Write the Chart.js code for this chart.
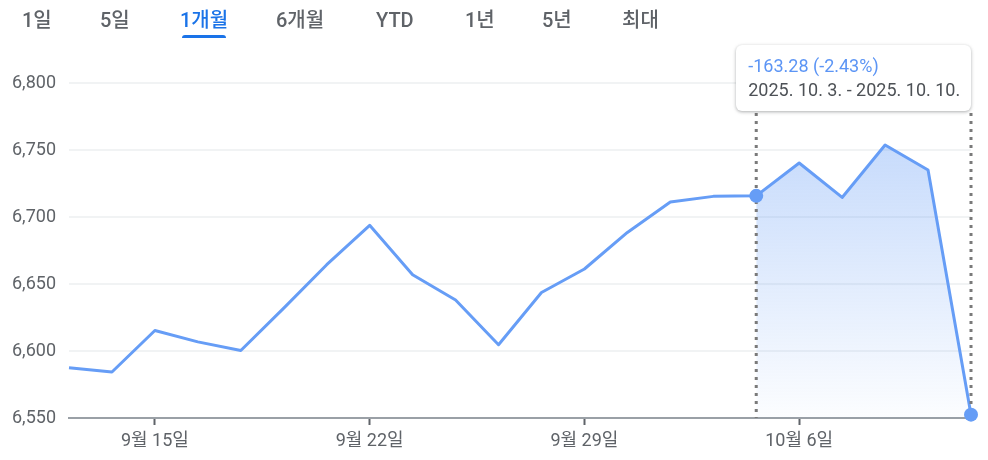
<!DOCTYPE html>
<html><head><meta charset="utf-8">
<script src="https://cdn.jsdelivr.net/npm/chart.js@4/dist/chart.umd.min.js"></script>
<style>
html,body{margin:0;padding:0;background:#fff;width:988px;height:460px;overflow:hidden;font-family:Roboto,"Noto Sans CJK KR",sans-serif;}
#wrap{position:absolute;left:0;top:0;width:988px;height:460px;}
.tab{position:absolute;top:7px;font-size:20px;font-weight:500;color:#5f6368;line-height:26px;font-family:Roboto,"Noto Sans CJK KR",sans-serif;}
.tab.active{color:#1a73e8;}
#uline{position:absolute;left:182px;top:35px;width:44px;height:3px;background:#1a73e8;border-radius:3px 3px 0 0;}
#tip{position:absolute;box-sizing:border-box;background:#fff;border-radius:6px;box-shadow:0 1px 3px rgba(60,64,67,0.3),0 1px 4px rgba(60,64,67,0.15);padding:9px 12px;font-size:18px;line-height:24px;white-space:nowrap;font-family:Roboto,sans-serif;}
#tip .a{color:#5c95f5;}
#tip .b{color:#4d5156;}
canvas{position:absolute;left:0;top:0;}
</style></head>
<body><div id="wrap">
<canvas id="c" width="988" height="460"></canvas>
<div id="tabs"></div>
<div id="uline"></div>
<div id="tip"><div class="a" id="tipA"></div><div class="b" id="tipB"></div></div>
</div>
<script>
const tabs = ['1일','5일','1개월','6개월','YTD','1년','5년','최대'];
const tabX = [22,100,180,276,376,465,542,622];
const activeTab = 2;
const dates = ['9월 11일','9월 12일','9월 15일','9월 16일','9월 17일','9월 18일','9월 19일','9월 22일','9월 23일','9월 24일','9월 25일','9월 26일','9월 29일','9월 30일','10월 1일','10월 2일','10월 3일','10월 6일','10월 7일','10월 8일','10월 9일','10월 10일'];
const values = [6587.5,6584.3,6615.3,6606.8,6600.4,6632.0,6664.4,6693.8,6656.9,6638.0,6604.7,6643.7,6661.2,6688.5,6711.2,6715.4,6715.79,6740.3,6714.6,6753.7,6735.1,6552.51];
const shownTicks = [2,7,12,17];
const yTicks = [6550,6600,6650,6700,6750,6800];
const rangeStart = 16, rangeEnd = 21;
const rangeDates = ['2025. 10. 3.','2025. 10. 10.'];

const tabsEl = document.getElementById('tabs');
tabs.forEach((t,i)=>{const s=document.createElement('span');s.className='tab'+(i===activeTab?' active':'');s.textContent=t;s.style.left=tabX[i]+'px';tabsEl.appendChild(s);});

const diff = values[rangeEnd]-values[rangeStart];
const pct = diff/values[rangeStart]*100;
document.getElementById('tipA').textContent = diff.toFixed(2)+' ('+pct.toFixed(2)+'%)';
document.getElementById('tipB').textContent = rangeDates[0]+' - '+rangeDates[1];

const rangeData = values.map((v,i)=> (i>=rangeStart && i<=rangeEnd) ? v : null);
const BLUE = '#669df6';

const rangePlugin = {
  id:'rangeLines',
  afterDatasetsDraw(chart){
    const ctx=chart.ctx, x=chart.scales.x, a=chart.chartArea;
    ctx.save();
    ctx.strokeStyle='#7a7a7a';ctx.lineWidth=3;ctx.setLineDash([3,5]);
    [rangeStart,rangeEnd].forEach(i=>{
      const px=x.getPixelForValue(i);
      ctx.beginPath();ctx.moveTo(px,113);ctx.lineTo(px,a.bottom);ctx.stroke();
    });
    ctx.restore();
    const meta=chart.getDatasetMeta(0);
    ctx.save();ctx.fillStyle=BLUE;
    [rangeStart,rangeEnd].forEach(i=>{const p=meta.data[i];ctx.beginPath();ctx.arc(p.x,p.y,7,0,Math.PI*2);ctx.fill();});
    ctx.restore();
    const tip=document.getElementById('tip');
    const x0=x.getPixelForValue(rangeStart), x1=x.getPixelForValue(rangeEnd);
    tip.style.left=(x0-20)+'px';tip.style.top='45px';
    tip.style.width=(x1-x0+20)+'px';tip.style.height='66px';
  }
};

new Chart(document.getElementById('c'),{
  type:'line',
  data:{labels:dates,datasets:[
    {data:values,borderColor:BLUE,borderWidth:3,pointRadius:0,pointHoverRadius:0,tension:0,fill:false,clip:false,order:0,borderJoinStyle:'round'},
    {data:rangeData,borderWidth:0,borderColor:'rgba(0,0,0,0)',pointRadius:0,tension:0,clip:false,order:1,spanGaps:false,
     fill:'start',
     backgroundColor:(c)=>{const a=c.chart.chartArea;if(!a)return 'rgba(102,157,246,0.2)';
       const g=c.chart.ctx.createLinearGradient(0,a.top+50,0,a.bottom);
       g.addColorStop(0,'rgba(102,157,246,0.38)');g.addColorStop(1,'rgba(102,157,246,0.02)');return g;}}
  ]},
  options:{
    responsive:false,animation:false,
    layout:{padding:{left:0,right:17,top:83,bottom:0}},
    plugins:{legend:{display:false},tooltip:{enabled:false}},
    scales:{
      x:{
        offset:false,
        border:{display:true,color:'#9aa0a6',width:2},
        grid:{drawOnChartArea:false,drawTicks:true,tickLength:7,tickWidth:2,
          tickColor:(c)=> shownTicks.includes(c.index)?'#5f6368':'rgba(0,0,0,0)'},
        ticks:{autoSkip:false,maxRotation:0,padding:6,color:'#5f6368',font:{family:'Roboto, "Noto Sans CJK KR"',size:18},
          callback:(v,i)=> shownTicks.includes(i)?dates[i]:''},
        afterFit:(s)=>{s.height=42;}
      },
      y:{
        min:yTicks[0],max:yTicks[yTicks.length-1],
        afterBuildTicks:(s)=>{s.ticks=yTicks.map(v=>({value:v}));},
        border:{display:false},
        grid:{color:(c)=> c.tick && c.tick.value===yTicks[0]?'rgba(0,0,0,0)':'#f1f3f4',lineWidth:2,drawTicks:false},
        ticks:{padding:13,color:'#5f6368',font:{family:'Roboto',size:18},callback:(v)=>v.toLocaleString('en-US')},
        afterFit:(s)=>{s.width=69;}
      }
    }
  },
  plugins:[rangePlugin]
});
</script>
</body></html>
